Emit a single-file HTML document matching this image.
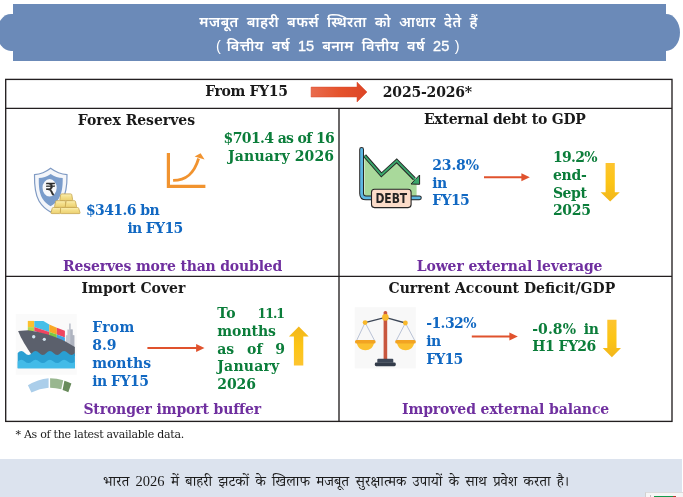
<!DOCTYPE html>
<html lang="hi">
<head>
<meta charset="utf-8">
<title>मजबूत बाहरी बफर्स स्थिरता को आधार देते हैं</title>
<style>
html,body{margin:0;padding:0;}
body{width:683px;height:497px;position:relative;overflow:hidden;background:#fff;
  font-family:"DejaVu Serif","Liberation Serif",serif;}
.abs{position:absolute;}
.t{position:absolute;white-space:nowrap;font-weight:bold;font-size:14px;line-height:17.6px;}
.banner-cap{position:absolute;left:-3px;top:14px;width:683px;height:37px;background:#6b8ab8;border-radius:14px / 18.5px;}
.banner{position:absolute;left:13px;top:4px;width:653px;height:57px;background:#6b8ab8;}
.hi{font-family:"Liberation Sans","Noto Sans Devanagari","Lohit Devanagari","FreeSans",sans-serif;}
.title{position:absolute;left:13px;width:653px;text-align:center;color:#fff;font-weight:600;font-size:14.5px;line-height:22px;white-space:nowrap;}
.ns{word-spacing:1px;}
.dg{font-weight:400;letter-spacing:0;-webkit-text-stroke:0.35px #fff;}
.pn{font-weight:400;}
.footer{position:absolute;left:0;top:459px;width:682px;height:38px;background:#dce3ee;}
.foot-t{position:absolute;left:0;top:469px;width:672px;text-align:center;color:#1a1a1a;font-size:14.5px;line-height:24px;white-space:nowrap;word-spacing:2.7px;
  font-family:"Liberation Serif","Noto Serif Devanagari","Tiro Devanagari Hindi","Lohit Devanagari","FreeSerif",serif;}
.note{position:absolute;left:15.5px;top:427px;letter-spacing:-0.28px;font-size:11px;line-height:15px;font-weight:normal;color:#1a1a1a;white-space:nowrap;}
</style>
</head>
<body>
<!-- title banner -->
<div class="banner-cap"></div>
<div class="banner"></div>
<div class="title hi" style="top:11px;left:12.2px;word-spacing:3.6px;letter-spacing:0.4px;">मजबूत बाहरी बफर्स स्थिरता को आधार देते हैं</div>
<div class="title hi" style="top:35px;left:11.5px;word-spacing:3.55px;letter-spacing:0.4px;"><span class="pn">(</span><span class="ns"> </span>वित्तीय वर्ष <span class="dg">15</span> बनाम वित्तीय वर्ष <span class="dg">25</span><span class="ns"> </span><span class="pn">)</span></div>

<!-- table grid -->
<svg class="abs" style="left:0;top:0" width="683" height="497" viewBox="0 0 683 497">
  <g fill="none" stroke="#231f20" stroke-width="1.35">
    <rect x="5.7" y="79.4" width="666.3" height="342"/>
    <path d="M5.7 108.3 H672 M5.7 276.4 H672 M339 108.3 V421.4"/>
  </g>
</svg>

<!-- header arrow -->
<svg class="abs" style="left:310px;top:81px" width="60" height="22" viewBox="0 0 60 22">
  <defs><linearGradient id="ga" x1="0" x2="1" y1="0" y2="0"><stop offset="0" stop-color="#e96c4e"/><stop offset="0.5" stop-color="#e5532c"/><stop offset="1" stop-color="#dd4526"/></linearGradient></defs>
  <path d="M1.1 6.1 H47 V1.1 L57 11 L47 21 V16 H1.1 Z" fill="url(#ga)" stroke="#d9482a" stroke-width="0.5"/>
</svg>

<svg class="abs" style="left:0;top:0" width="683" height="497" viewBox="0 0 683 497">
  <defs>
    <linearGradient id="gy" x1="0" x2="0" y1="0" y2="1"><stop offset="0" stop-color="#fdc42f"/><stop offset="0.5" stop-color="#fcc515"/><stop offset="1" stop-color="#f2b61c"/></linearGradient>
    <linearGradient id="gyu" x1="0" x2="0" y1="1" y2="0"><stop offset="0" stop-color="#fdc42f"/><stop offset="0.5" stop-color="#fcc515"/><stop offset="1" stop-color="#f2b61c"/></linearGradient>
    <linearGradient id="gold" x1="0" x2="0" y1="0" y2="1"><stop offset="0" stop-color="#fbf0b4"/><stop offset="0.45" stop-color="#f4df8a"/><stop offset="1" stop-color="#ecd070"/></linearGradient>
  </defs>

  <!-- shield with rupee -->
  <g>
    <path d="M50.6 168.3 C46 172 40 174.3 34.5 174.7 C34.3 186 35 194 39 201 C42 206 46 209.5 50.5 212 C55 209.5 59 206 62 201 C66 194 67.2 186 67 174.7 C61.5 174.3 55.5 172 50.6 168.3 Z" fill="#f4f6fa" stroke="#7f9ac3" stroke-width="1.2"/>
    <path d="M50.7 173.9 C47 176.3 43 177.8 38.8 178.1 C38.6 187 39.4 193.5 42.4 198.5 C44.6 202 47.4 204.4 50.6 206.3 C53.8 204.4 56.6 202 58.8 198.5 C61.8 193.5 62.9 187 62.7 178.1 C58.5 177.8 54.4 176.3 50.7 173.9 Z" fill="#7a9ccb"/>
    <ellipse cx="49.6" cy="187.8" rx="7.1" ry="8.7" fill="#f7f8fb"/>
    <text x="50.4" y="194.9" font-family="'DejaVu Sans','Liberation Sans',sans-serif" font-weight="normal" font-size="16.5" text-anchor="middle" fill="#2b2b2b" stroke="#2b2b2b" stroke-width="0.35">₹</text>
  </g>
  <!-- gold bars -->
  <g fill="url(#gold)" stroke="#c5a44c" stroke-width="0.8" stroke-linejoin="round">
    <path d="M61.8 193.9 H70.7 Q71.6 193.9 71.8 194.8 L72.6 199.6 Q72.7 200.6 71.7 200.6 H60.8 Q59.8 200.6 59.9 199.6 L60.7 194.8 Q60.9 193.9 61.8 193.9 Z"/>
    <path d="M56.6 200.7 H64.4 Q65.3 200.7 65.4 201.6 L65.9 206.4 Q66 207.4 65 207.4 H55.4 Q54.4 207.4 54.6 206.4 L55.6 201.6 Q55.8 200.7 56.6 200.7 Z"/>
    <path d="M67 200.7 H74.4 Q75.3 200.7 75.5 201.6 L76.5 206.4 Q76.6 207.4 75.6 207.4 H66.2 Q65.2 207.4 65.3 206.4 L66 201.6 Q66.1 200.7 67 200.7 Z"/>
    <path d="M53.2 207.5 H59.6 Q60.5 207.5 60.5 208.4 L60.6 212.6 Q60.6 213.6 59.6 213.6 H51.8 Q50.8 213.6 51 212.6 L52.2 208.4 Q52.4 207.5 53.2 207.5 Z"/>
    <path d="M61.6 207.5 H77.6 Q78.5 207.5 78.7 208.4 L80 212.6 Q80.2 213.6 79.2 213.6 H61.2 Q60.3 213.6 60.3 212.6 L60.6 208.4 Q60.7 207.5 61.6 207.5 Z"/>
  </g>

  <!-- growth curve -->
  <g fill="none" stroke="#f1932f">
    <path d="M168.4 153 V186.3 H205.4" stroke-width="3.2" stroke-linejoin="miter"/>
    <path d="M173.1 180.4 C186 180.4 194 174 198.6 158.5" stroke-width="2.8"/>
  </g>
  <path d="M200.6 153.2 L204.6 159.4 L199.4 157.9 L194.6 156.6 Z" fill="#f1932f"/>

  <!-- DEBT chart -->
  <g>
    <path d="M364.4 155.3 L381.4 174.8 L396.7 160.9 L416.6 181 V197.4 H364.4 Z" fill="#a9d99b"/>
    <path d="M361.6 149.4 V193.4 Q361.6 197.8 366 197.8 H419.4" fill="none" stroke="#252525" stroke-width="4.8" stroke-linecap="round"/>
    <path d="M361.6 149.4 V193.4 Q361.6 197.8 366 197.8 H419.4" fill="none" stroke="#5db7e3" stroke-width="2.8" stroke-linecap="round"/>
    <path d="M364.6 155.6 L381.4 174.8 L396.7 160.9 L414.4 178.8" fill="none" stroke="#252525" stroke-width="3.8" stroke-linejoin="miter"/>
    <path d="M411 184 L419.6 175 L419.6 184.3 Z" fill="#3aa76b" stroke="#252525" stroke-width="1" stroke-linejoin="round"/>
    <path d="M364.8 155.8 L381.4 174.8 L396.7 160.9 L415.5 179.9" fill="none" stroke="#3aa76b" stroke-width="1.9" stroke-linejoin="miter"/>
    <rect x="371.5" y="189.2" width="39.6" height="18.4" rx="3" fill="#fbdcc9" stroke="#252525" stroke-width="1.1"/>
    <text x="391.3" y="203.4" font-family="'DejaVu Sans','Liberation Sans',sans-serif" font-weight="bold" font-size="13.4" text-anchor="middle" textLength="31.8" lengthAdjust="spacingAndGlyphs" fill="#252525">DEBT</text>
  </g>

  <!-- thin red arrows -->
  <g stroke="#e0522d" stroke-width="2" fill="#e0522d">
    <path d="M484 177.3 H523"/><path d="M529.8 177.3 L521.4 173.3 V181.3 Z" stroke="none"/>
    <path d="M147.4 348 H198"/><path d="M204.5 348 L196.1 344 V352 Z" stroke="none"/>
    <path d="M471.8 336.5 H511"/><path d="M517.8 336.5 L509.4 332.5 V340.5 Z" stroke="none"/>
  </g>

  <!-- yellow arrows -->
  <path d="M605.6 163.1 H614.8 V192.3 H619.8 L610.2 201.6 L600.6 192.3 H605.6 Z" fill="url(#gy)"/>
  <path d="M607.3 319.8 H616.5 V348 H621 L611.9 357.2 L602.7 348 H607.3 Z" fill="url(#gy)"/>
  <path d="M293.9 365.5 H303.3 V336.4 H308.7 L298.8 326.6 L288.9 336.4 H293.9 Z" fill="url(#gyu)"/>

  <!-- ship -->
  <g>
    <rect x="15.7" y="314" width="61.1" height="60.7" fill="#fafafa"/>
    <!-- tower -->
    <path d="M69 323.4 H70.8 V329.6 H72.6 V335.2 H74.3 V348 H65.9 V335.2 H67.4 V329.6 H69 Z" fill="#c3c7d1"/>
    <path d="M70.3 329.6 H72.6 V335.2 H74.3 V348 H70.3 Z" fill="#aeb3bf"/>
    <!-- containers -->
    <g>
      <path d="M27.8 320.9 H34.3 V327.1 H27.8 Z" fill="#fbc02d"/>
      <path d="M34.3 320.9 H43.4 L49.3 324.6 V332 L34.3 327.1 Z" fill="#45bfe8"/>
      <path d="M49.3 324.6 L56.8 327.7 V334.5 L49.3 332 Z" fill="#f9a825"/>
      <path d="M56.8 327.7 L64.9 330.8 V337.6 L56.8 334.5 Z" fill="#ef4560"/>
      <path d="M27.8 327.1 H34.3 V331 H27.8 Z" fill="#b4d84e"/>
      <path d="M34.3 327.1 L49.3 332 V336 L34.3 331 Z" fill="#ef4560"/>
      <path d="M49.3 332 L56.8 334.5 V339 L49.3 336 Z" fill="#7ac943"/>
      <path d="M56.8 334.5 L64.9 337.6 V342 L56.8 339 Z" fill="#3ea3e6"/>
    </g>
    <!-- hull -->
    <path d="M18.1 330.9 L28 330.2 C40 331.6 54 336 65 341.2 L74.9 347 V356 H32.5 C27 348 21.5 339.5 18.1 330.9 Z" fill="#5b606c"/>
    <circle cx="33.7" cy="336.8" r="1.7" fill="#d3e4ef"/><circle cx="44.3" cy="339.3" r="1.6" fill="#d3e4ef"/>
    <!-- water -->
    <path d="M17.7 353 Q21.3 349 24.9 353 T32 353 T39.2 353 T46.3 353 T53.5 353 T60.6 353 T67.8 353 T74.9 353 V368.3 H17.7 Z" fill="#2a9fd2"/>
    <path d="M17.7 361.4 Q21.3 358.2 24.9 361.4 T32 361.4 T39.2 361.4 T46.3 361.4 T53.5 361.4 T60.6 361.4 T67.8 361.4 T74.9 361.4 V368.3 H17.7 Z" fill="#43bbe8"/>
  </g>
  <!-- gauge arc pieces -->
  <g>
    <path d="M27.9 385.2 Q38 379.2 48.6 378.2 V387.8 Q39.5 388.6 31.4 392.6 Z" fill="#abceea"/>
    <path d="M50.1 378.2 Q56.8 378.4 63.2 380.3 L61.3 389.2 Q55.8 387.9 50.1 387.8 Z" fill="#99b790"/>
    <path d="M64.4 380.8 Q68 381.8 71.4 383.4 L68.3 392.2 Q65.5 390.9 62.6 390 Z" fill="#688b5b"/>
  </g>

  <!-- scales -->
  <g>
    <rect x="354.7" y="307.2" width="61.1" height="61.2" fill="#f8f8f8"/>
    <g stroke="#aab5cd" stroke-width="0.8" fill="none">
      <path d="M365.1 322.6 L356.4 341 M365.1 322.6 L374.8 341"/>
      <path d="M405.4 323 L396 341 M405.4 323 L415 341"/>
    </g>
    <path d="M365.1 322.6 L385.3 317.4 L405.4 323" fill="none" stroke="#3d4757" stroke-width="1.3"/>
    <rect x="383.6" y="311" width="3.6" height="49" rx="1.6" fill="#c8573f"/>
    <circle cx="385.4" cy="317.4" r="3.3" fill="#f9b92c"/>
    <circle cx="365.1" cy="322.6" r="2.4" fill="#f9b92c"/>
    <circle cx="405.4" cy="323" r="2.4" fill="#f9b92c"/>
    <path d="M356.6 342 H374.2 C373.5 347.5 370 350.2 365.4 350.2 C360.8 350.2 357.3 347.5 356.6 342 Z" fill="#fbc02f"/>
    <rect x="355" y="340" width="20.6" height="3.5" rx="1.6" fill="#f2a322"/>
    <path d="M396.8 342 H414.4 C413.7 347.5 410.2 350.2 405.6 350.2 C401 350.2 397.5 347.5 396.8 342 Z" fill="#fbc02f"/>
    <rect x="395.2" y="340" width="20.6" height="3.5" rx="1.6" fill="#f2a322"/>
    <path d="M378.4 358.8 H392.3 Q393.3 358.8 393.3 359.8 V362.8 H377.3 V359.8 Q377.3 358.8 378.4 358.8 Z" fill="#3d4757"/>
    <rect x="374.8" y="362.6" width="21" height="3.6" rx="1.4" fill="#333c4a"/>
  </g>
</svg>


<div class="t" style="left:205.2px;top:82.9px;color:#1a1a1a;letter-spacing:-0.35px;">From FY15</div>
<div class="t" style="left:382.8px;top:83.6px;color:#1a1a1a;letter-spacing:-0.19px;">2025-2026*</div>
<div class="t" style="left:77.8px;top:111.9px;color:#1a1a1a;letter-spacing:-0.03px;">Forex Reserves</div>
<div class="t" style="left:423.9px;top:111.0px;color:#1a1a1a;letter-spacing:-0.23px;">External debt to GDP</div>
<div class="t" style="left:223.6px;top:129.6px;color:#0b7d3a;letter-spacing:-0.63px;">$701.4 as of 16</div>
<div class="t" style="left:228.1px;top:147.5px;color:#0b7d3a;letter-spacing:0.14px;">January 2026</div>
<div class="t" style="left:85.9px;top:201.5px;color:#1168c2;letter-spacing:-0.59px;">$341.6 bn</div>
<div class="t" style="left:127.4px;top:220.1px;color:#1168c2;letter-spacing:-0.66px;">in FY15</div>
<div class="t" style="left:63.1px;top:257.8px;color:#6f2f9f;letter-spacing:-0.18px;">Reserves more than doubled</div>
<div class="t" style="left:432.3px;top:157.0px;color:#1168c2;letter-spacing:-0.18px;">23.8%</div>
<div class="t" style="left:432.3px;top:174.9px;color:#1168c2;letter-spacing:-0.55px;">in</div>
<div class="t" style="left:432.3px;top:192.4px;color:#1168c2;letter-spacing:-0.63px;">FY15</div>
<div class="t" style="left:552.9px;top:149.1px;color:#0b7d3a;letter-spacing:-0.68px;">19.2%</div>
<div class="t" style="left:552.9px;top:166.9px;color:#0b7d3a;letter-spacing:-0.27px;">end-</div>
<div class="t" style="left:552.9px;top:184.5px;color:#0b7d3a;letter-spacing:-0.42px;">Sept</div>
<div class="t" style="left:552.9px;top:201.9px;color:#0b7d3a;letter-spacing:-0.29px;">2025</div>
<div class="t" style="left:416.7px;top:257.9px;color:#6f2f9f;letter-spacing:-0.11px;">Lower external leverage</div>
<div class="t" style="left:81.6px;top:279.7px;color:#1a1a1a;letter-spacing:-0.04px;">Import Cover</div>
<div class="t" style="left:92.2px;top:318.6px;color:#1168c2;letter-spacing:0.27px;">From</div>
<div class="t" style="left:92.2px;top:336.6px;color:#1168c2;letter-spacing:-0.05px;">8.9</div>
<div class="t" style="left:92.2px;top:354.8px;color:#1168c2;">months</div>
<div class="t" style="left:92.2px;top:372.5px;color:#1168c2;letter-spacing:-0.51px;">in FY15</div>
<div class="t" style="left:217.3px;top:304.6px;color:#0b7d3a;letter-spacing:0.18px;">To</div>
<div class="t" style="left:257.4px;top:305.0px;color:#0b7d3a;font-size:12.6px;letter-spacing:-1.02px;">11.1</div>
<div class="t" style="left:217.3px;top:322.9px;color:#0b7d3a;letter-spacing:-0.03px;">months</div>
<div class="t" style="left:217.3px;top:340.6px;color:#0b7d3a;letter-spacing:-0.18px;">as</div>
<div class="t" style="left:246.9px;top:340.6px;color:#0b7d3a;letter-spacing:0.17px;">of</div>
<div class="t" style="left:275.3px;top:340.6px;color:#0b7d3a;">9</div>
<div class="t" style="left:217.3px;top:358.3px;color:#0b7d3a;letter-spacing:0.20px;">January</div>
<div class="t" style="left:217.3px;top:375.5px;color:#0b7d3a;letter-spacing:-0.09px;">2026</div>
<div class="t" style="left:83.4px;top:400.8px;color:#6f2f9f;letter-spacing:-0.14px;">Stronger import buffer</div>
<div class="t" style="left:388.5px;top:279.7px;color:#1a1a1a;">Current Account Deficit/GDP</div>
<div class="t" style="left:426.2px;top:314.8px;color:#1168c2;letter-spacing:-0.57px;">-1.32%</div>
<div class="t" style="left:426.2px;top:332.8px;color:#1168c2;letter-spacing:-0.45px;">in</div>
<div class="t" style="left:426.2px;top:350.7px;color:#1168c2;letter-spacing:-0.80px;">FY15</div>
<div class="t" style="left:532.2px;top:320.8px;color:#0b7d3a;letter-spacing:0.07px;">-0.8%</div>
<div class="t" style="left:583.8px;top:320.8px;color:#0b7d3a;letter-spacing:-0.35px;">in</div>
<div class="t" style="left:532.3px;top:338.4px;color:#0b7d3a;letter-spacing:-0.54px;">H1 FY26</div>
<div class="t" style="left:402.0px;top:400.8px;color:#6f2f9f;letter-spacing:-0.11px;">Improved external balance</div>

<div class="note">* As of the latest available data.</div>

<div class="footer"></div>
<div class="foot-t">भारत 2026 में बाहरी झटकों के खिलाफ मजबूत सुरक्षात्मक उपायों के साथ प्रवेश करता है।</div>
<div class="abs" style="left:645px;top:492px;width:38px;height:5px;background:#f6f6f6;border-left:1px solid #d0d0d0;border-top:1px solid #dcdcdc;box-sizing:border-box;"></div>
<div class="abs" style="left:650px;top:495px;width:1px;height:2px;background:#c4c4c4;"></div>
<div class="abs" style="left:654px;top:495.6px;width:19px;height:2px;background:#139a4b;"></div>
<div class="abs" style="left:673px;top:495.6px;width:3px;height:2px;background:#b8332a;"></div>
</body>
</html>
